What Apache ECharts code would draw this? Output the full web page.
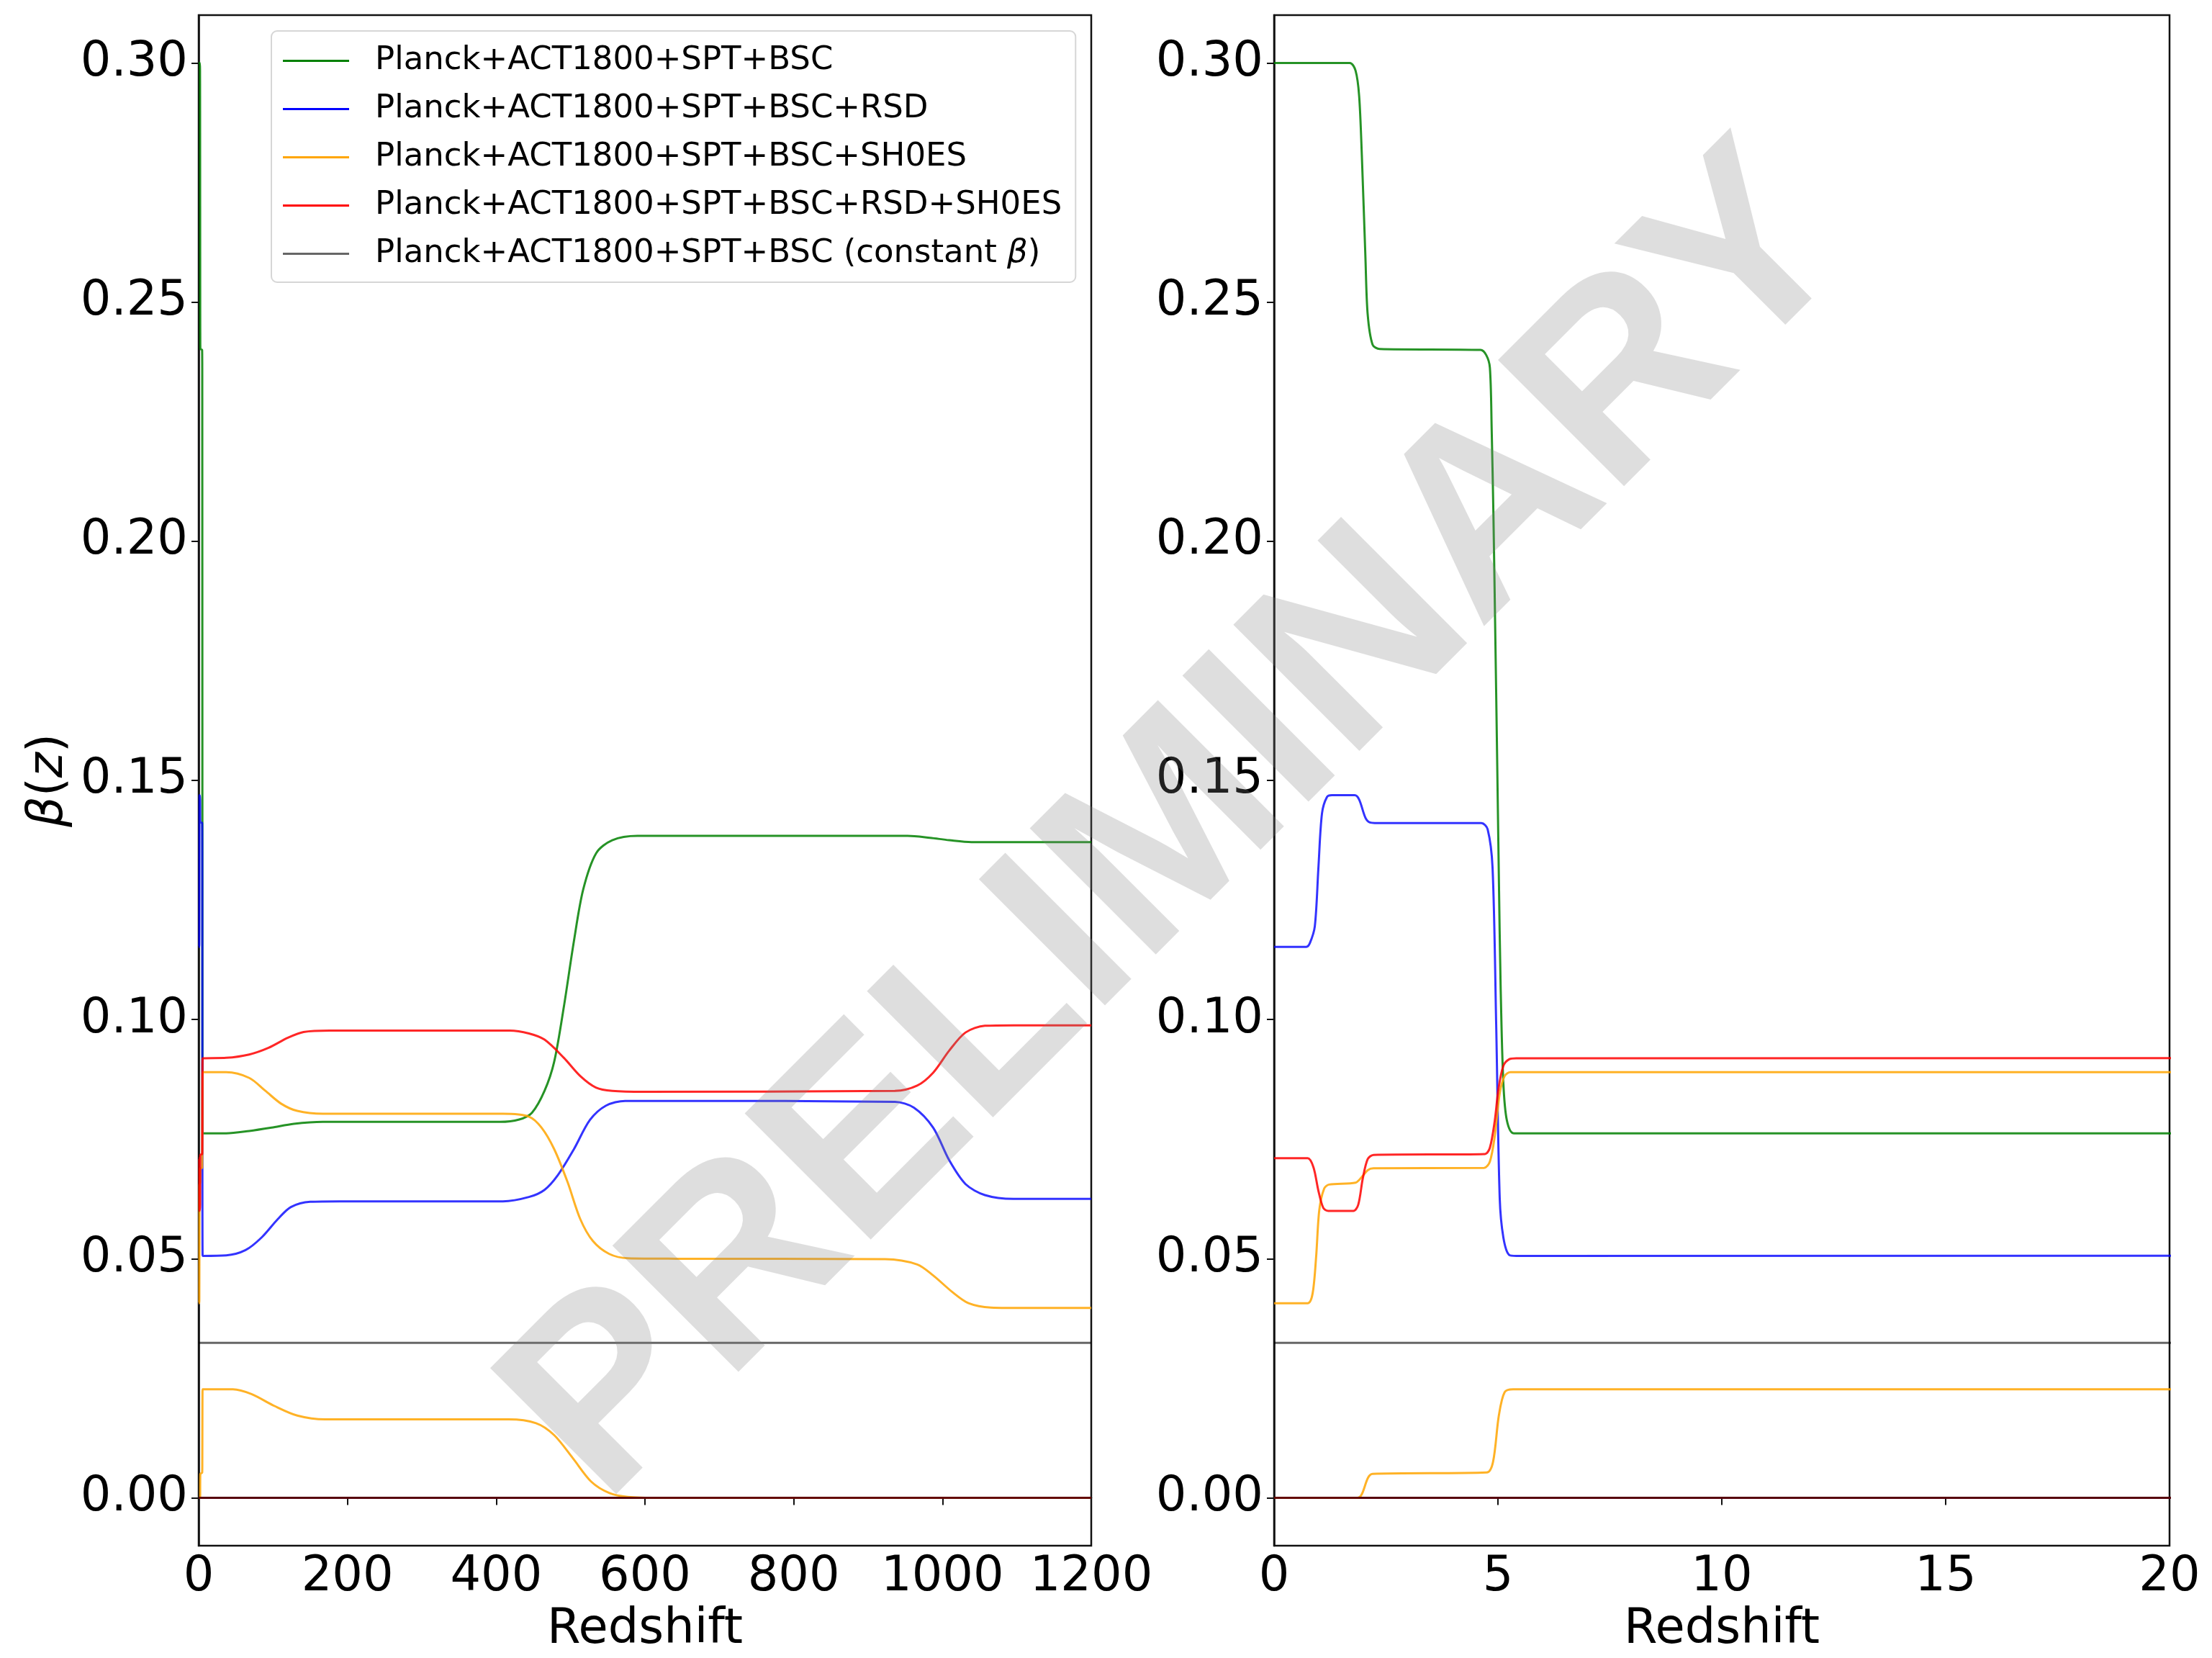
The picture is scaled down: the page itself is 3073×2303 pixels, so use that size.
<!DOCTYPE html>
<html>
<head>
<meta charset="utf-8">
<script src="https://cdn.jsdelivr.net/npm/echarts@6/dist/echarts.min.js"></script>
<style>
html,body{margin:0;padding:0;background:#fff;}
#chart{width:3073px;height:2303px;}
</style>
</head>
<body>
<div id="chart"></div>
<script>
// ---------------- DATA ----------------
const names = [
  'Planck+ACT1800+SPT+BSC',
  'Planck+ACT1800+SPT+BSC+RSD',
  'Planck+ACT1800+SPT+BSC+SH0ES',
  'Planck+ACT1800+SPT+BSC+RSD+SH0ES',
  'Planck+ACT1800+SPT+BSC (constant β)'
];
const yTicks = [0, 0.05, 0.10, 0.15, 0.20, 0.25, 0.30];

const greenZ = [0, 1.69, 1.82, 1.90, 1.96, 2.04, 2.09, 2.20, 2.36, 4.61, 4.74, 4.82, 4.86, 4.90, 4.94, 4.98, 5.02, 5.06, 5.12, 5.20, 5.36,
  37, 68, 98, 128, 167, 405, 431, 448, 465, 478, 491, 504.5, 517, 534.5, 556, 590, 953, 983, 1009, 1039, 1074, 1200];
const greenB = [0.300, 0.300, 0.2984, 0.2931, 0.2807, 0.2594, 0.2475, 0.2411, 0.2402, 0.2400, 0.2389, 0.2363, 0.2235, 0.205, 0.181, 0.156, 0.130, 0.107, 0.0869, 0.0789, 0.0762,
  0.0762, 0.0767, 0.0774, 0.0782, 0.0786, 0.0786, 0.0791, 0.0805, 0.0851, 0.0912, 0.1027, 0.1164, 0.1272, 0.1348, 0.1375, 0.1384, 0.1384, 0.1380, 0.1375, 0.1371, 0.1371, 0.1371];

const blueZ = [0, 0.72, 0.80, 0.91, 0.99, 1.07, 1.18, 1.29, 1.80, 1.90, 2.04, 2.14, 2.25, 4.63, 4.77, 4.88, 4.96, 5.04, 5.12, 5.25, 5.41,
  37, 63, 85, 106.5, 124, 150, 189, 409, 444, 465, 483, 504.5, 526, 547.6, 573.5, 642.5, 936, 961.5, 987.5, 1009, 1031, 1057, 1095.5, 1200];
const blueB = [0.1152, 0.1152, 0.1160, 0.1195, 0.1317, 0.1431, 0.1465, 0.1469, 0.1469, 0.1460, 0.1422, 0.1412, 0.1411, 0.1411, 0.1398, 0.1317, 0.0993, 0.0626, 0.0545, 0.0508, 0.0506,
  0.0507, 0.0518, 0.0545, 0.0583, 0.0608, 0.0619, 0.0620, 0.0620, 0.0629, 0.0644, 0.0675, 0.0729, 0.0790, 0.0820, 0.0830, 0.0830, 0.0828, 0.0816, 0.0774, 0.0706, 0.0656, 0.0633, 0.0625, 0.0625];

const orangeZ = [0, 0.75, 0.86, 0.94, 1.01, 1.12, 1.23, 1.82, 1.96, 2.09, 2.22, 4.69, 4.82, 4.93, 5.04, 5.15, 5.28,
  37, 68, 89.7, 111, 132.5, 167, 409, 444, 461, 478, 496, 513, 530, 552, 577, 642.5, 923, 966, 987.5, 1013.5, 1035, 1065, 1117, 1200];
const orangeB = [0.0407, 0.0407, 0.0427, 0.0505, 0.0602, 0.0647, 0.0655, 0.0659, 0.0671, 0.0685, 0.0689, 0.0690, 0.0703, 0.0757, 0.0846, 0.0882, 0.0890,
  0.0890, 0.0878, 0.0851, 0.0824, 0.0809, 0.0803, 0.0803, 0.0797, 0.0774, 0.0729, 0.0660, 0.0583, 0.0537, 0.0510, 0.0501, 0.0500, 0.0499, 0.0488, 0.0465, 0.0430, 0.0407, 0.0398, 0.0397, 0.0397];

const redZ = [0, 0.75, 0.88, 0.99, 1.10, 1.21, 1.77, 1.88, 1.98, 2.09, 2.22, 4.71, 4.82, 4.93, 5.01, 5.12, 5.25, 5.41,
  37, 68, 94, 120, 141, 176, 418, 444, 465, 491, 513, 534, 556, 599, 936, 966, 987.5, 1009, 1031, 1057, 1095.5, 1200];
const redB = [0.0710, 0.0710, 0.0691, 0.0642, 0.0606, 0.0600, 0.0600, 0.0613, 0.0667, 0.0708, 0.0717, 0.0719, 0.0732, 0.0789, 0.0854, 0.0903, 0.0917, 0.0919,
  0.0920, 0.0927, 0.0941, 0.0962, 0.0974, 0.0977, 0.0977, 0.0971, 0.0958, 0.0920, 0.0882, 0.0858, 0.0851, 0.0849, 0.0851, 0.0862, 0.0889, 0.0935, 0.0973, 0.0987, 0.0988, 0.0988];

// lower curves
const orangeLowZ = [0, 1.86, 2.20, 4.75, 4.89, 5.02, 5.15, 5.34, 46, 71, 102, 132.6, 170, 416.6, 453.6, 478, 503, 527.7, 552.3, 577, 620, 1200];
const orangeLowB = [0, 0, 0.0050, 0.0053, 0.0075, 0.0172, 0.0221, 0.0227, 0.0227, 0.0217, 0.0192, 0.0172, 0.0164, 0.0164, 0.0156, 0.0131, 0.0083, 0.0034, 0.0010, 0.0002, 0, 0];
const flatZ = [0, 1200];
const zeroB = [0, 0];
const constBeta = [0.0324, 0.0324];

// ---------------- CHART ----------------
const FONT = 'DejaVu Sans';
const colors = ['#008000', '#0000ff', '#ffa500', '#ff0000', 'rgba(0,0,0,0.6)'];
const zip = (a, b) => a.map((x, i) => [x, b[i]]);

const curves = [
  [names[0], colors[0], zip(greenZ, greenB), 0.85],
  [names[0], colors[0], zip(flatZ, zeroB), 0.85],
  [names[1], colors[1], zip(blueZ, blueB), 0.8],
  [names[1], colors[1], zip(flatZ, zeroB), 0.8],
  [names[2], colors[2], zip(orangeZ, orangeB), 0.85],
  [names[2], colors[2], zip(orangeLowZ, orangeLowB), 0.85],
  [names[3], colors[3], zip(redZ, redB), 0.85],
  [names[3], colors[3], zip(flatZ, zeroB), 0.85],
  [names[4], colors[4], zip(flatZ, constBeta), 1],
  [names[4], colors[4], zip(flatZ, zeroB), 1]
];

const series = [];
[0, 1].forEach(p => {
  curves.forEach(c => {
    series.push({
      type: 'line', name: c[0], xAxisIndex: p, yAxisIndex: p,
      data: c[2], showSymbol: false, symbol: 'none', clip: true,
      smooth: 0.3,
      color: c[1],
      itemStyle: { color: c[1] },
      lineStyle: { color: c[1], width: 3, opacity: c[3] },
      emphasis: { disabled: true }
    });
  });
});

const gridCommon = { top: 21, bottom: 146, show: true, borderColor: '#111', borderWidth: 2.5, containLabel: false };

function xAxis(gi, max, interval) {
  return {
    type: 'value', gridIndex: gi, min: 0, max: max, interval: interval,
    name: 'Redshift', nameLocation: 'middle', nameGap: 84,
    nameTextStyle: { fontFamily: FONT, fontSize: 67, color: '#000' },
    axisLine: { show: true, lineStyle: { color: '#111', width: 2.5 } },
    axisTick: { show: true, inside: false, length: 10, lineStyle: { color: '#111', width: 2 } },
    axisLabel: { fontFamily: FONT, fontSize: 67, color: '#000', margin: 11, showMinLabel: true, showMaxLabel: true,
      formatter: v => String(v) },
    splitLine: { show: false }
  };
}
function yAxis(gi, withName) {
  const ax = {
    type: 'value', gridIndex: gi, min: -0.01, max: 0.31,
    axisLine: { show: true, lineStyle: { color: '#111', width: 2.5 } },
    axisTick: { show: true, inside: false, length: 10, lineStyle: { color: '#111', width: 2 }, customValues: yTicks },
    axisLabel: { fontFamily: FONT, fontSize: 67, color: '#000', margin: 15, customValues: yTicks,
      formatter: v => Number(v).toFixed(2) },
    splitLine: { show: false }
  };
  if (withName) {
    ax.name = '{i|β}({i|z})';
    ax.nameLocation = 'middle';
    ax.nameGap = 174;
    ax.nameTextStyle = { fontFamily: FONT, fontSize: 67, color: '#000',
      rich: { i: { fontFamily: FONT, fontSize: 67, fontStyle: 'italic', color: '#000' } } };
  }
  return ax;
}

const option = {
  animation: false,
  backgroundColor: '#fff',
  grid: [
    Object.assign({ left: 276, right: 3073 - 1516 }, gridCommon),
    Object.assign({ left: 1770, right: 3073 - 3014 }, gridCommon)
  ],
  xAxis: [xAxis(0, 1200, 200), xAxis(1, 20, 5)],
  yAxis: [yAxis(0, true), yAxis(1, false)],
  legend: {
    data: names,
    orient: 'vertical', left: 377, top: 43,
    icon: 'rect', itemWidth: 92, itemHeight: 3, itemGap: 22,
    padding: [19, 19, 17, 16],
    backgroundColor: '#fff', borderColor: 'rgba(204,204,204,0.8)', borderWidth: 2, borderRadius: 8,
    selectedMode: false,
    formatter: n => n.replace('β', '{i|β}'),
    textStyle: { fontFamily: FONT, fontSize: 45, color: '#000', lineHeight: 45, padding: [0, 0, 0, 31],
      rich: { i: { fontFamily: FONT, fontSize: 45, fontStyle: 'italic', color: '#000' } } }
  },
  graphic: [{
    type: 'text', x: 1641, y: 1150, rotation: Math.PI / 4, z: 100, silent: true,
    style: { text: 'PRELIMINARY', font: 'bold 360px "Liberation Sans"', fill: 'rgba(128,128,128,0.26)',
      align: 'center', verticalAlign: 'middle' }
  }],
  series: series
};

const chart = echarts.init(document.getElementById('chart'), null, { renderer: 'canvas' });
chart.setOption(option);
</script>
</body>
</html>
